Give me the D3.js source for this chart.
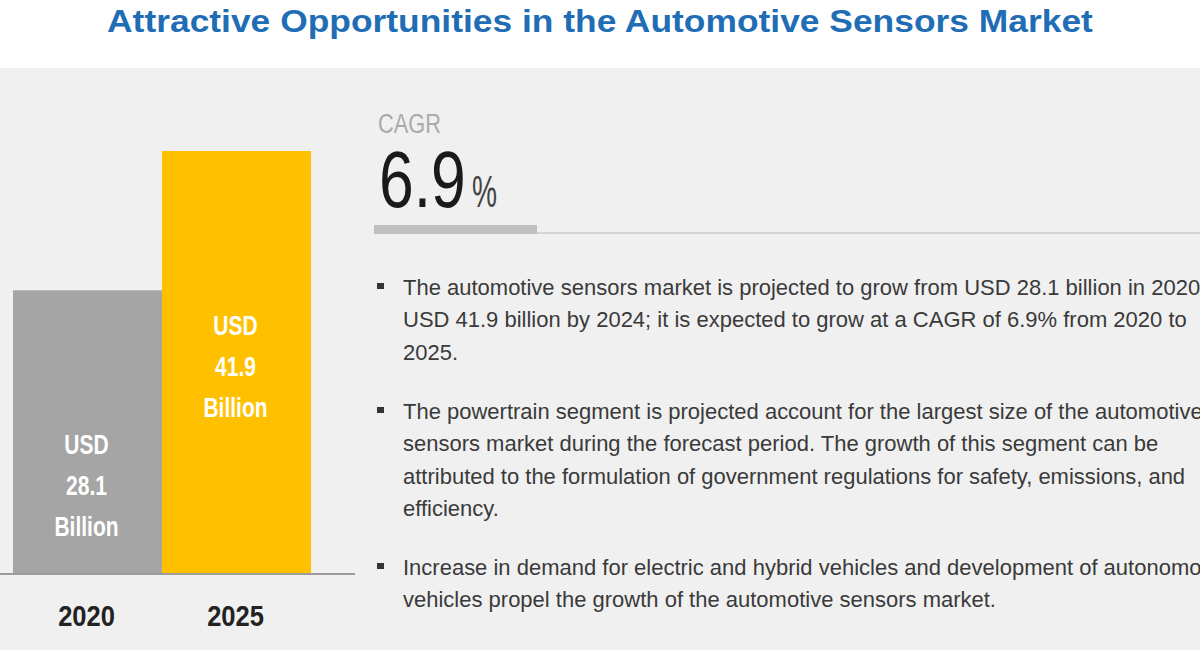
<!DOCTYPE html>
<html><head><meta charset="utf-8">
<script src="https://cdn.jsdelivr.net/npm/d3@7"></script>
<style>
html,body{margin:0;padding:0;background:#fff;}
svg{display:block;}
</style></head>
<body>
<svg id="chart" width="1200" height="650"></svg>
<script>
const title = "Attractive Opportunities in the Automotive Sensors Market";
const years = ["2020", "2025"];
const values = [28.1, 41.9];
const barColors = ["#a5a5a5", "#ffc000"];
const barLabelPrefix = "USD";
const barLabelSuffix = "Billion";
const cagrLabel = "CAGR";
const cagrValue = "6.9";
const bullets = [
  ["The automotive sensors market is projected to grow from USD 28.1 billion in 2020 to",
   "USD 41.9 billion by 2024; it is expected to grow at a CAGR of 6.9% from 2020 to",
   "2025."],
  ["The powertrain segment is projected account for the largest size of the automotive",
   "sensors market during the forecast period. The growth of this segment can be",
   "attributed to the formulation of government regulations for safety, emissions, and",
   "efficiency."],
  ["Increase in demand for electric and hybrid vehicles and development of autonomous",
   "vehicles propel the growth of the automotive sensors market."]
];

const FONT = "'Liberation Sans', Arial, sans-serif";
const svg = d3.select("#chart");

// squeeze text horizontally about its anchor x by a factor (real transform, so bbox is correct)
function squeeze(sel, f) {
  sel.each(function() {
    const ax = +d3.select(this).attr("x") || 0;
    const prev = d3.select(this).attr("transform") || "";
    d3.select(this).attr("transform", `${prev} translate(${ax},0) scale(${f},1) translate(${-ax},0)`);
  });
}

// backgrounds
svg.append("rect").attr("x",0).attr("y",0).attr("width",1200).attr("height",650).attr("fill","#ffffff");
svg.append("rect").attr("x",0).attr("y",68).attr("width",1200).attr("height",582).attr("fill","#f0f0f0");

// title
const tt = svg.append("text").attr("x",600).attr("y",32).attr("text-anchor","middle")
  .attr("font-family",FONT).attr("font-size",31).attr("font-weight","bold")
  .attr("fill","#1f6db5").text(title);
squeeze(tt, 986 / tt.node().getComputedTextLength());

// bar chart
const x = d3.scaleBand().domain(years).range([13, 311]).padding(0);
const y = d3.scaleLinear().domain([0, 41.9]).range([574, 151]);

const g = svg.append("g");
g.selectAll("rect.bar").data(years).join("rect").attr("class","bar")
  .attr("x", d => x(d)).attr("width", x.bandwidth())
  .attr("y", (d,i) => y(values[i])).attr("height", (d,i) => y(0) - y(values[i]))
  .attr("fill", (d,i) => barColors[i]);

g.append("line").attr("x1",0).attr("x2",355).attr("y1",y(0)).attr("y2",y(0))
  .attr("stroke","#9c9c9c").attr("stroke-width",2);

// bar value labels (first baseline positioned relative to bar top)
const firstBaselineOffset = [164, 184];
years.forEach((yr,i) => {
  const cx = x(yr) + x.bandwidth()/2 - 1;
  const b0 = y(values[i]) + firstBaselineOffset[i];
  const lines = [barLabelPrefix, values[i].toFixed(1), barLabelSuffix];
  const t = g.selectAll(null).data(lines).join("text")
    .attr("x", cx).attr("y", (d,k) => b0 + k*41)
    .attr("text-anchor","middle").attr("font-family",FONT).attr("font-weight","bold")
    .attr("font-size",28).attr("fill","#ffffff").text(d => d);
  squeeze(t, 0.75);
});

// x axis labels
const xAxis = d3.axisBottom(x).tickSize(0).tickPadding(0);
const ax = svg.append("g").attr("transform","translate(-1,626)").call(xAxis);
ax.select(".domain").remove();
ax.selectAll("text").attr("font-family",FONT).attr("font-weight","bold")
  .attr("font-size",29).attr("fill","#222").attr("dy",0).attr("y",0).attr("x",0);
squeeze(ax.selectAll("text"), 0.88);

// CAGR block
const cg = svg.append("text").attr("x",378).attr("y",133).attr("font-family",FONT)
  .attr("font-size",28).attr("fill","#aaaaaa").text(cagrLabel);
squeeze(cg, 0.78);
const big = svg.append("text").attr("x",379).attr("y",207).attr("font-family",FONT)
  .attr("font-size",80).attr("fill","#1a1a1a").text(cagrValue);
squeeze(big, 0.78);
const pct = svg.append("text").attr("x",472).attr("y",207).attr("font-family",FONT)
  .attr("font-size",44).attr("fill","#444").text("%");
squeeze(pct, 0.64);

svg.append("line").attr("x1",537).attr("x2",1200).attr("y1",233).attr("y2",233)
  .attr("stroke","#d4d4d4").attr("stroke-width",2);
svg.append("rect").attr("x",374).attr("y",225).attr("width",163).attr("height",9).attr("fill","#bfbfbf");

// bullets
const bulletStarts = [295, 419, 575]; // first-line baselines
const lineH = 32.3;
const bg = svg.append("g");
bullets.forEach((lines, bi) => {
  const b0 = bulletStarts[bi];
  bg.append("rect").attr("x",377).attr("y",b0-12).attr("width",7).attr("height",6).attr("fill","#333");
  bg.append("g").attr("class","blines").selectAll("text").data(lines).join("text")
    .attr("x",403).attr("y",(d,k) => b0 + k*lineH)
    .attr("font-family",FONT).attr("font-size",23).attr("fill","#3a3a3a")
    .text(d => d);
});
// uniform squeeze so that the reference line width matches
const refNode = bg.selectAll(".blines text").filter(d => d === bullets[0][1]).node();
const factor = 784 / refNode.getComputedTextLength();
squeeze(bg.selectAll(".blines text"), factor);
</script>
</body></html>
